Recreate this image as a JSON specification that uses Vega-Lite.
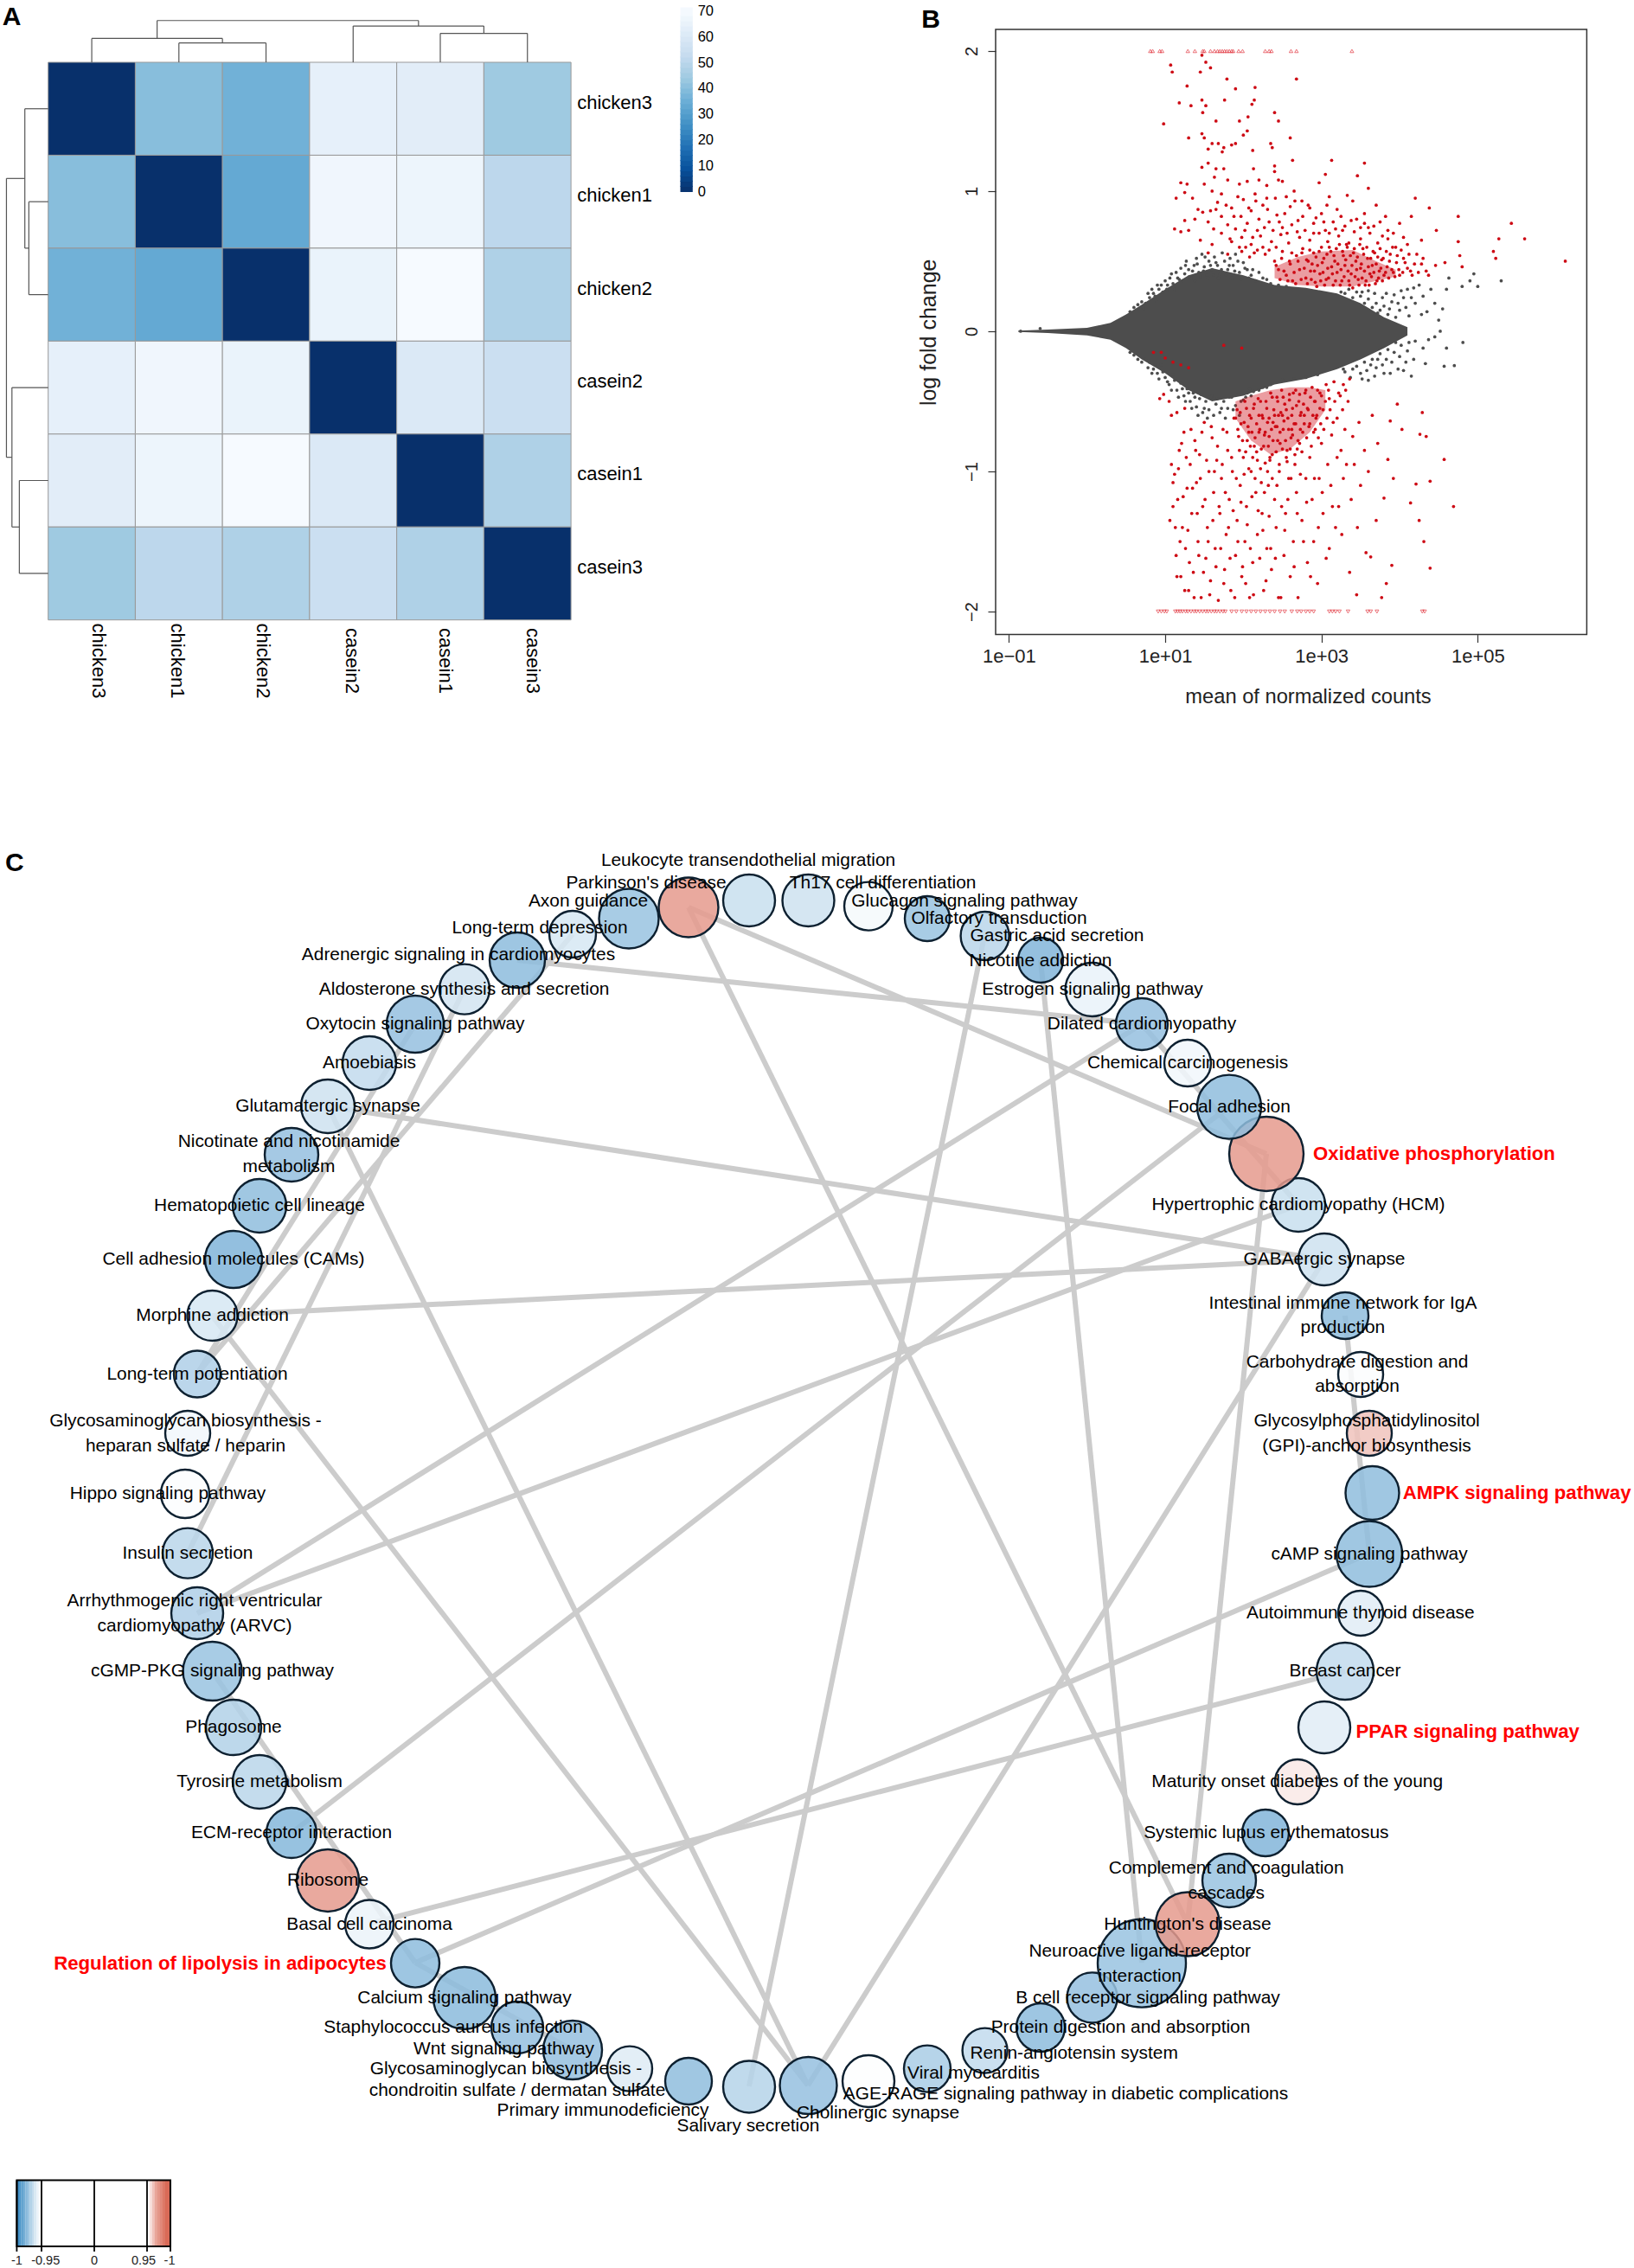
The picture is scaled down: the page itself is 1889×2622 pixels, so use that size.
{"$schema":"https://vega.github.io/schema/vega-lite/v6.json","background":"white","padding":0,"spacing":0,"config":{"font":"Liberation Sans","view":{"stroke":null},"concat":{"spacing":0}},
"datasets":{
"cells":[{"row":"chicken3","col":"chicken3","i":0,"i2":1,"j":0,"j2":1,"v":0},{"row":"chicken3","col":"chicken1","i":0,"i2":1,"j":1,"j2":2,"v":40},{"row":"chicken3","col":"chicken2","i":0,"i2":1,"j":2,"j2":3,"v":36},{"row":"chicken3","col":"casein2","i":0,"i2":1,"j":3,"j2":4,"v":64},{"row":"chicken3","col":"casein1","i":0,"i2":1,"j":4,"j2":5,"v":62.5},{"row":"chicken3","col":"casein3","i":0,"i2":1,"j":5,"j2":6,"v":44},
{"row":"chicken1","col":"chicken3","i":1,"i2":2,"j":0,"j2":1,"v":40},{"row":"chicken1","col":"chicken1","i":1,"i2":2,"j":1,"j2":2,"v":0},{"row":"chicken1","col":"chicken2","i":1,"i2":2,"j":2,"j2":3,"v":33.5},{"row":"chicken1","col":"casein2","i":1,"i2":2,"j":3,"j2":4,"v":67.5},{"row":"chicken1","col":"casein1","i":1,"i2":2,"j":4,"j2":5,"v":66.5},{"row":"chicken1","col":"casein3","i":1,"i2":2,"j":5,"j2":6,"v":50.5},
{"row":"chicken2","col":"chicken3","i":2,"i2":3,"j":0,"j2":1,"v":36},{"row":"chicken2","col":"chicken1","i":2,"i2":3,"j":1,"j2":2,"v":33.5},{"row":"chicken2","col":"chicken2","i":2,"i2":3,"j":2,"j2":3,"v":0},{"row":"chicken2","col":"casein2","i":2,"i2":3,"j":3,"j2":4,"v":65.5},{"row":"chicken2","col":"casein1","i":2,"i2":3,"j":4,"j2":5,"v":69.5},{"row":"chicken2","col":"casein3","i":2,"i2":3,"j":5,"j2":6,"v":47.5},
{"row":"casein2","col":"chicken3","i":3,"i2":4,"j":0,"j2":1,"v":64},{"row":"casein2","col":"chicken1","i":3,"i2":4,"j":1,"j2":2,"v":67.5},{"row":"casein2","col":"chicken2","i":3,"i2":4,"j":2,"j2":3,"v":65.5},{"row":"casein2","col":"casein2","i":3,"i2":4,"j":3,"j2":4,"v":0},{"row":"casein2","col":"casein1","i":3,"i2":4,"j":4,"j2":5,"v":60},{"row":"casein2","col":"casein3","i":3,"i2":4,"j":5,"j2":6,"v":54.5},
{"row":"casein1","col":"chicken3","i":4,"i2":5,"j":0,"j2":1,"v":62.5},{"row":"casein1","col":"chicken1","i":4,"i2":5,"j":1,"j2":2,"v":66.5},{"row":"casein1","col":"chicken2","i":4,"i2":5,"j":2,"j2":3,"v":69.5},{"row":"casein1","col":"casein2","i":4,"i2":5,"j":3,"j2":4,"v":60},{"row":"casein1","col":"casein1","i":4,"i2":5,"j":4,"j2":5,"v":0},{"row":"casein1","col":"casein3","i":4,"i2":5,"j":5,"j2":6,"v":47.5},
{"row":"casein3","col":"chicken3","i":5,"i2":6,"j":0,"j2":1,"v":44},{"row":"casein3","col":"chicken1","i":5,"i2":6,"j":1,"j2":2,"v":50.5},{"row":"casein3","col":"chicken2","i":5,"i2":6,"j":2,"j2":3,"v":47.5},{"row":"casein3","col":"casein2","i":5,"i2":6,"j":3,"j2":4,"v":54.5},{"row":"casein3","col":"casein1","i":5,"i2":6,"j":4,"j2":5,"v":47.5},{"row":"casein3","col":"casein3","i":5,"i2":6,"j":5,"j2":6,"v":0}],
"dendro":[{"a":1.5,"a2":2.5,"b":-0.208,"b2":-0.208},{"a":1.5,"a2":1.5,"b":0,"b2":-0.208},{"a":2.5,"a2":2.5,"b":0,"b2":-0.208},{"a":0.5,"a2":2,"b":-0.257,"b2":-0.257},{"a":0.5,"a2":0.5,"b":0,"b2":-0.257},{"a":2,"a2":2,"b":-0.208,"b2":-0.257},{"a":4.5,"a2":5.5,"b":-0.311,"b2":-0.311},{"a":4.5,"a2":4.5,"b":0,"b2":-0.311},{"a":5.5,"a2":5.5,"b":0,"b2":-0.311},{"a":3.5,"a2":5,"b":-0.39,"b2":-0.39},{"a":3.5,"a2":3.5,"b":0,"b2":-0.39},{"a":5,"a2":5,"b":-0.311,"b2":-0.39},{"a":1.25,"a2":4.25,"b":-0.449,"b2":-0.449},{"a":1.25,"a2":1.25,"b":-0.257,"b2":-0.449},{"a":4.25,"a2":4.25,"b":-0.39,"b2":-0.449},
{"a":-0.222,"a2":-0.222,"b":1.5,"b2":2.5},{"a":0,"a2":-0.222,"b":1.5,"b2":1.5},{"a":0,"a2":-0.222,"b":2.5,"b2":2.5},{"a":-0.268,"a2":-0.268,"b":0.5,"b2":2},{"a":0,"a2":-0.268,"b":0.5,"b2":0.5},{"a":-0.222,"a2":-0.268,"b":2,"b2":2},{"a":-0.331,"a2":-0.331,"b":4.5,"b2":5.5},{"a":0,"a2":-0.331,"b":4.5,"b2":4.5},{"a":0,"a2":-0.331,"b":5.5,"b2":5.5},{"a":-0.416,"a2":-0.416,"b":3.5,"b2":5},{"a":0,"a2":-0.416,"b":3.5,"b2":3.5},{"a":-0.331,"a2":-0.416,"b":5,"b2":5},{"a":-0.479,"a2":-0.479,"b":1.25,"b2":4.25},{"a":-0.268,"a2":-0.479,"b":1.25,"b2":1.25},{"a":-0.416,"a2":-0.479,"b":4.25,"b2":4.25}],
"ns":[{"m":-0.85,"l":0},{"m":-0.6,"l":0.02},{"m":0.75,"l":0.2},{"m":0.8,"l":0.24},{"m":0.85,"l":0.27},{"m":0.88,"l":0.22},{"m":0.92,"l":0.3},{"m":0.95,"l":0.33},{"m":1,"l":0.36},{"m":1.02,"l":0.3},{"m":1.06,"l":0.38},{"m":1.1,"l":0.34},{"m":1.14,"l":0.42},{"m":1.18,"l":0.37},{"m":1.2,"l":0.45},{"m":1.25,"l":0.41},{"m":1.27,"l":0.5},{"m":1.3,"l":0.44},{"m":1.33,"l":0.38},{"m":1.37,"l":0.47},{"m":1.4,"l":0.52},{"m":1.43,"l":0.42},{"m":1.47,"l":0.55},{"m":1.5,"l":0.46},{"m":1.53,"l":0.4},{"m":1.56,"l":0.5},{"m":1.6,"l":0.44},{"m":1.63,"l":0.53},{"m":1.67,"l":0.47},{"m":1.7,"l":0.41},{"m":1.73,"l":0.56},{"m":1.76,"l":0.5},{"m":1.8,"l":0.44},{"m":1.83,"l":0.52},{"m":1.87,"l":0.47},{"m":1.9,"l":0.55},{"m":1.95,"l":0.42},{"m":2,"l":0.49},{"m":2.05,"l":0.44},{"m":2.1,"l":0.4},{"m":2.2,"l":0.42},{"m":2.3,"l":0.37},
{"m":0.8,"l":-0.22},{"m":0.85,"l":-0.27},{"m":0.9,"l":-0.3},{"m":0.95,"l":-0.24},{"m":1,"l":-0.33},{"m":1.05,"l":-0.38},{"m":1.1,"l":-0.31},{"m":1.15,"l":-0.42},{"m":1.2,"l":-0.37},{"m":1.24,"l":-0.46},{"m":1.28,"l":-0.41},{"m":1.32,"l":-0.5},{"m":1.36,"l":-0.44},{"m":1.4,"l":-0.54},{"m":1.44,"l":-0.48},{"m":1.48,"l":-0.58},{"m":1.52,"l":-0.5},{"m":1.56,"l":-0.56},{"m":1.6,"l":-0.46},{"m":1.65,"l":-0.52},{"m":1.7,"l":-0.58},{"m":1.75,"l":-0.5},{"m":1.8,"l":-0.55},{"m":1.85,"l":-0.47},{"m":1.9,"l":-0.53},{"m":1.95,"l":-0.6},{"m":2,"l":-0.49},{"m":2.05,"l":-0.44},{"m":2.1,"l":-0.46},{"m":2.2,"l":-0.42},{"m":2.3,"l":-0.4},
{"m":3.3,"l":0.27},{"m":3.4,"l":0.24},{"m":3.5,"l":0.25},{"m":3.55,"l":0.2},{"m":3.6,"l":0.23},{"m":3.65,"l":0.17},{"m":3.7,"l":0.2},{"m":3.75,"l":0.15},{"m":3.8,"l":0.18},{"m":3.85,"l":0.12},{"m":3.9,"l":0.21},{"m":3.95,"l":0.1},{"m":4,"l":0.15},{"m":4.05,"l":0.24},{"m":4.1,"l":0.3},{"m":4.12,"l":0.11},{"m":4.2,"l":0.2},{"m":4.25,"l":0.33},{"m":4.3,"l":0.25},{"m":4.35,"l":0.14},{"m":4.4,"l":0.3},{"m":4.45,"l":0.2},{"m":4.5,"l":0.08},{"m":4.55,"l":0.16},{"m":4.6,"l":0.3},{"m":4.63,"l":0.38},{"m":4.8,"l":0.32},{"m":4.9,"l":0.36},{"m":4.95,"l":0.41},{"m":5,"l":0.32},{"m":5.3,"l":0.36},
{"m":3.3,"l":-0.29},{"m":3.4,"l":-0.27},{"m":3.5,"l":-0.3},{"m":3.55,"l":-0.22},{"m":3.6,"l":-0.35},{"m":3.65,"l":-0.2},{"m":3.7,"l":-0.26},{"m":3.75,"l":-0.16},{"m":3.8,"l":-0.3},{"m":3.85,"l":-0.13},{"m":3.9,"l":-0.22},{"m":3.95,"l":-0.08},{"m":4,"l":-0.18},{"m":4.05,"l":-0.28},{"m":4.1,"l":-0.14},{"m":4.15,"l":-0.32},{"m":4.2,"l":-0.07},{"m":4.3,"l":-0.12},{"m":4.33,"l":-0.23},{"m":4.37,"l":-0.06},{"m":4.45,"l":-0.04},{"m":4.52,"l":0},{"m":4.57,"l":-0.25},{"m":4.6,"l":-0.12},{"m":4.7,"l":-0.245},{"m":4.81,"l":-0.08},
{"m":0.55,"l":0.14},{"m":0.6,"l":0.17},{"m":0.65,"l":0.19},{"m":0.7,"l":0.21},{"m":0.72,"l":0.16},{"m":0.78,"l":0.27},{"m":0.83,"l":0.3},{"m":0.87,"l":0.25},{"m":0.9,"l":0.33},{"m":0.97,"l":0.28},{"m":1.03,"l":0.33},{"m":1.08,"l":0.41},{"m":1.12,"l":0.3},{"m":1.16,"l":0.38},{"m":1.22,"l":0.36},{"m":1.26,"l":0.47},{"m":1.31,"l":0.39},{"m":1.35,"l":0.43},{"m":1.38,"l":0.36},{"m":1.41,"l":0.48},{"m":1.45,"l":0.39},{"m":1.49,"l":0.43},{"m":1.51,"l":0.53},{"m":1.55,"l":0.38},{"m":1.58,"l":0.47},{"m":1.62,"l":0.4},{"m":1.65,"l":0.49},{"m":1.68,"l":0.38},{"m":1.72,"l":0.44},{"m":1.78,"l":0.4},{"m":1.82,"l":0.47},{"m":1.85,"l":0.38},{"m":1.89,"l":0.43},{"m":1.93,"l":0.5},{"m":1.97,"l":0.37},{"m":2.02,"l":0.45},{"m":2.07,"l":0.38},{"m":2.12,"l":0.44},{"m":2.16,"l":0.36},{"m":2.25,"l":0.38},{"m":2.35,"l":0.34},{"m":2.45,"l":0.33},{"m":2.55,"l":0.32},
{"m":0.55,"l":-0.15},{"m":0.6,"l":-0.17},{"m":0.65,"l":-0.2},{"m":0.7,"l":-0.22},{"m":0.75,"l":-0.2},{"m":0.78,"l":-0.26},{"m":0.83,"l":-0.3},{"m":0.87,"l":-0.24},{"m":0.92,"l":-0.34},{"m":0.97,"l":-0.29},{"m":1.03,"l":-0.36},{"m":1.08,"l":-0.42},{"m":1.12,"l":-0.35},{"m":1.17,"l":-0.47},{"m":1.22,"l":-0.41},{"m":1.26,"l":-0.5},{"m":1.3,"l":-0.44},{"m":1.34,"l":-0.55},{"m":1.38,"l":-0.47},{"m":1.42,"l":-0.6},{"m":1.46,"l":-0.45},{"m":1.5,"l":-0.55},{"m":1.54,"l":-0.62},{"m":1.58,"l":-0.47},{"m":1.62,"l":-0.6},{"m":1.67,"l":-0.48},{"m":1.72,"l":-0.55},{"m":1.77,"l":-0.62},{"m":1.82,"l":-0.47},{"m":1.87,"l":-0.56},{"m":1.92,"l":-0.45},{"m":1.97,"l":-0.5},{"m":2.03,"l":-0.47},{"m":2.08,"l":-0.41},{"m":2.13,"l":-0.43},{"m":2.25,"l":-0.4},{"m":2.35,"l":-0.38},{"m":2.5,"l":-0.35},{"m":2.65,"l":-0.34},{"m":2.8,"l":-0.33},{"m":2.95,"l":-0.31},
{"m":3.25,"l":0.28},{"m":3.35,"l":0.3},{"m":3.45,"l":0.28},{"m":3.52,"l":0.28},{"m":3.6,"l":0.29},{"m":3.68,"l":0.27},{"m":3.72,"l":0.13},{"m":3.78,"l":0.24},{"m":3.83,"l":0.27},{"m":3.87,"l":0.16},{"m":3.93,"l":0.26},{"m":3.98,"l":0.2},{"m":4.02,"l":0.29},{"m":4.08,"l":0.17},{"m":4.15,"l":0.24},{"m":4.18,"l":0.31},{"m":4.28,"l":0.12},{"m":3.28,"l":-0.27},{"m":3.37,"l":-0.33},{"m":3.45,"l":-0.25},{"m":3.52,"l":-0.34},{"m":3.58,"l":-0.28},{"m":3.63,"l":-0.24},{"m":3.68,"l":-0.32},{"m":3.72,"l":-0.2},{"m":3.78,"l":-0.24},{"m":3.83,"l":-0.2},{"m":3.88,"l":-0.3},{"m":3.93,"l":-0.15},{"m":3.98,"l":-0.27},{"m":4.02,"l":-0.1},{"m":4.08,"l":-0.22},{"m":4.12,"l":-0.08},{"m":4.18,"l":-0.2}],
"sig":[{"m":1.07,"l":1.9},{"m":1.09,"l":1.85},{"m":0.98,"l":1.48},{"m":1.18,"l":1.63},{"m":1.28,"l":1.75},{"m":1.33,"l":1.61},{"m":1.45,"l":1.85},{"m":1.47,"l":1.97},{"m":1.52,"l":1.92},{"m":1.58,"l":1.88},{"m":1.79,"l":1.8},{"m":1.9,"l":1.73},{"m":2.15,"l":1.74},{"m":2.68,"l":1.8},{"m":1.47,"l":1.65},{"m":1.52,"l":1.61},{"m":1.48,"l":1.56},{"m":1.76,"l":1.65},{"m":2.14,"l":1.65},{"m":2.11,"l":1.62},{"m":2.06,"l":1.53},{"m":2.4,"l":1.56},{"m":2.45,"l":1.5},{"m":1.65,"l":1.5},{"m":1.95,"l":1.5},{"m":2.05,"l":1.43},{"m":2.0,"l":1.4},{"m":2.6,"l":1.38},{"m":1.3,"l":1.38},{"m":1.47,"l":1.41},{"m":1.5,"l":1.38},{"m":1.55,"l":1.3},{"m":1.6,"l":1.34},{"m":1.68,"l":1.34},{"m":1.75,"l":1.31},{"m":1.85,"l":1.33},{"m":1.9,"l":1.34},{"m":2.12,"l":1.29},{"m":2.35,"l":1.34},{"m":2.37,"l":1.31},{"m":1.73,"l":1.28},{"m":1.55,"l":1.2},{"m":1.47,"l":1.17},{"m":1.65,"l":1.16},{"m":1.75,"l":1.16},{"m":2.13,"l":1.16},{"m":2.4,"l":1.18},{"m":2.63,"l":1.22},{"m":3.13,"l":1.22},{"m":3.55,"l":1.2},{"m":3.46,"l":1.11},{"m":2.4,"l":1.14},{"m":1.8,"l":1.08},{"m":1.63,"l":1.1},{"m":1.2,"l":1.06},{"m":1.28,"l":1.05},{"m":1.5,"l":1.05},{"m":1.95,"l":1.05},{"m":2.05,"l":1.07},{"m":2.2,"l":1.08},{"m":2.45,"l":1.08},{"m":2.5,"l":1.07},{"m":2.97,"l":1.06},{"m":3.05,"l":1.12},{"m":3.6,"l":1.02},{"m":2.65,"l":1.0},{"m":2.3,"l":1.04},
{"m":1.14,"l":0.95},{"m":1.25,"l":0.99},{"m":1.35,"l":0.95},{"m":1.6,"l":1.0},{"m":1.72,"l":0.98},{"m":2.0,"l":0.94},{"m":2.15,"l":0.98},{"m":2.3,"l":0.95},{"m":2.55,"l":0.96},{"m":2.75,"l":0.93},{"m":3.1,"l":0.96},{"m":3.33,"l":0.97},{"m":3.4,"l":0.93},{"m":4.2,"l":0.95},{"m":4.38,"l":0.88},{"m":1.42,"l":0.87},{"m":1.48,"l":0.85},{"m":1.65,"l":0.87},{"m":1.72,"l":0.82},{"m":1.85,"l":0.88},{"m":1.97,"l":0.82},{"m":2.1,"l":0.86},{"m":2.25,"l":0.9},{"m":2.43,"l":0.83},{"m":2.6,"l":0.89},{"m":2.85,"l":0.88},{"m":3.0,"l":0.84},{"m":3.2,"l":0.87},{"m":3.55,"l":0.84},{"m":3.7,"l":0.9},{"m":4.15,"l":0.82},{"m":1.25,"l":0.79},{"m":1.38,"l":0.8},{"m":1.55,"l":0.78},{"m":1.8,"l":0.76},{"m":1.9,"l":0.73},{"m":2.05,"l":0.77},{"m":2.18,"l":0.72},{"m":2.33,"l":0.78},{"m":2.5,"l":0.74},{"m":2.7,"l":0.79},{"m":2.9,"l":0.77},{"m":3.05,"l":0.72},{"m":3.15,"l":0.78},{"m":3.3,"l":0.75},{"m":3.45,"l":0.8},{"m":3.6,"l":0.74},{"m":3.75,"l":0.78},{"m":3.85,"l":0.72},{"m":4.0,"l":0.77},{"m":1.12,"l":0.73},{"m":1.2,"l":0.71},{"m":1.3,"l":0.72},{"m":1.45,"l":0.65},{"m":1.6,"l":0.62},{"m":1.72,"l":0.7},{"m":1.85,"l":0.64},{"m":1.98,"l":0.67},{"m":2.1,"l":0.62},{"m":2.22,"l":0.68},{"m":2.36,"l":0.64},{"m":2.48,"l":0.69},{"m":2.58,"l":0.63},{"m":2.72,"l":0.67},{"m":2.85,"l":0.65},{"m":2.97,"l":0.7},{"m":3.08,"l":0.64},{"m":3.22,"l":0.68},{"m":3.35,"l":0.63},{"m":3.5,"l":0.66},{"m":3.62,"l":0.7},{"m":3.72,"l":0.63},{"m":3.85,"l":0.66},{"m":3.95,"l":0.6},{"m":4.1,"l":0.62},{"m":4.28,"l":0.65},{"m":4.47,"l":0.72},{"m":1.55,"l":0.56},{"m":1.8,"l":0.55},{"m":1.98,"l":0.57},{"m":2.08,"l":0.53},{"m":2.18,"l":0.58},{"m":2.28,"l":0.55},
{"m":1.58,"l":0.86},{"m":1.62,"l":0.73},{"m":1.67,"l":0.92},{"m":1.78,"l":0.9},{"m":1.83,"l":0.66},{"m":1.88,"l":0.82},{"m":1.93,"l":0.96},{"m":2.02,"l":0.72},{"m":2.07,"l":0.88},{"m":2.12,"l":0.67},{"m":2.16,"l":0.93},{"m":2.2,"l":0.8},{"m":2.27,"l":0.74},{"m":2.31,"l":0.87},{"m":2.38,"l":0.72},{"m":2.41,"l":0.95},{"m":2.46,"l":0.78},{"m":2.53,"l":0.84},{"m":2.56,"l":0.7},{"m":2.62,"l":0.76},{"m":2.66,"l":0.93},{"m":2.69,"l":0.71},{"m":2.76,"l":0.82},{"m":2.79,"l":0.72},{"m":2.83,"l":0.9},{"m":2.9,"l":0.7},{"m":2.93,"l":0.81},{"m":3.03,"l":0.78},{"m":3.07,"l":0.9},{"m":3.1,"l":0.7},{"m":3.18,"l":0.73},{"m":3.25,"l":0.82},{"m":3.27,"l":0.72},{"m":3.38,"l":0.79},{"m":3.42,"l":0.71},{"m":3.5,"l":0.74},{"m":3.55,"l":0.77},{"m":3.67,"l":0.75},{"m":3.78,"l":0.68},{"m":3.82,"l":0.82},{"m":3.92,"l":0.7},{"m":4.05,"l":0.67},{"m":1.95,"l":0.6},{"m":2.03,"l":0.6},{"m":2.14,"l":0.56},{"m":2.25,"l":0.6},{"m":2.33,"l":0.58},{"m":2.42,"l":0.6},
{"m":2.4,"l":0.5},{"m":2.45,"l":0.44},{"m":2.5,"l":0.57},{"m":2.55,"l":0.4},{"m":2.6,"l":0.48},{"m":2.63,"l":0.36},{"m":2.68,"l":0.54},{"m":2.72,"l":0.44},{"m":2.76,"l":0.59},{"m":2.8,"l":0.38},{"m":2.83,"l":0.5},{"m":2.86,"l":0.43},{"m":2.9,"l":0.56},{"m":2.92,"l":0.35},{"m":2.95,"l":0.47},{"m":2.98,"l":0.41},{"m":3.0,"l":0.6},{"m":3.03,"l":0.52},{"m":3.06,"l":0.37},{"m":3.08,"l":0.45},{"m":3.12,"l":0.57},{"m":3.15,"l":0.33},{"m":3.17,"l":0.5},{"m":3.2,"l":0.42},{"m":3.23,"l":0.62},{"m":3.26,"l":0.36},{"m":3.28,"l":0.54},{"m":3.3,"l":0.47},{"m":3.33,"l":0.6},{"m":3.36,"l":0.33},{"m":3.38,"l":0.41},{"m":3.41,"l":0.56},{"m":3.44,"l":0.5},{"m":3.47,"l":0.37},{"m":3.5,"l":0.45},{"m":3.53,"l":0.59},{"m":3.56,"l":0.33},{"m":3.59,"l":0.52},{"m":3.62,"l":0.41},{"m":3.65,"l":0.47},{"m":3.68,"l":0.56},{"m":3.71,"l":0.36},{"m":3.74,"l":0.43},{"m":3.77,"l":0.51},{"m":3.8,"l":0.4},{"m":3.84,"l":0.46},{"m":3.88,"l":0.55},{"m":3.92,"l":0.42},{"m":3.96,"l":0.49},{"m":4.0,"l":0.4},{"m":4.05,"l":0.52},{"m":4.1,"l":0.45},{"m":4.16,"l":0.4},{"m":4.22,"l":0.55},{"m":4.28,"l":0.48},{"m":4.34,"l":0.43},{"m":4.46,"l":0.47},{"m":4.58,"l":0.49},{"m":4.75,"l":0.82},{"m":4.75,"l":0.64},{"m":4.77,"l":0.54},{"m":4.8,"l":0.46},{"m":5.2,"l":0.57},{"m":5.23,"l":0.52},{"m":5.27,"l":0.66},{"m":5.43,"l":0.77},{"m":5.6,"l":0.66},{"m":6.12,"l":0.5},
{"m":2.42,"l":0.47},{"m":2.47,"l":0.37},{"m":2.49,"l":0.52},{"m":2.52,"l":0.43},{"m":2.57,"l":0.36},{"m":2.59,"l":0.5},{"m":2.62,"l":0.56},{"m":2.65,"l":0.42},{"m":2.67,"l":0.34},{"m":2.7,"l":0.5},{"m":2.74,"l":0.37},{"m":2.75,"l":0.56},{"m":2.78,"l":0.45},{"m":2.81,"l":0.51},{"m":2.82,"l":0.34},{"m":2.85,"l":0.58},{"m":2.87,"l":0.37},{"m":2.88,"l":0.48},{"m":2.91,"l":0.43},{"m":2.93,"l":0.53},{"m":2.94,"l":0.32},{"m":2.97,"l":0.57},{"m":2.99,"l":0.36},{"m":3.01,"l":0.49},{"m":3.02,"l":0.42},{"m":3.04,"l":0.33},{"m":3.07,"l":0.55},{"m":3.09,"l":0.38},{"m":3.1,"l":0.6},{"m":3.13,"l":0.46},{"m":3.14,"l":0.41},{"m":3.16,"l":0.54},{"m":3.18,"l":0.36},{"m":3.19,"l":0.59},{"m":3.21,"l":0.48},{"m":3.24,"l":0.33},{"m":3.25,"l":0.44},{"m":3.27,"l":0.57},{"m":3.29,"l":0.39},{"m":3.31,"l":0.51},{"m":3.32,"l":0.62},{"m":3.34,"l":0.43},{"m":3.35,"l":0.36},{"m":3.37,"l":0.54},{"m":3.39,"l":0.47},{"m":3.4,"l":0.31},{"m":3.42,"l":0.59},{"m":3.43,"l":0.39},{"m":3.45,"l":0.44},{"m":3.46,"l":0.53},{"m":3.48,"l":0.33},{"m":3.49,"l":0.62},{"m":3.51,"l":0.48},{"m":3.52,"l":0.38},{"m":3.54,"l":0.55},{"m":3.55,"l":0.43},{"m":3.57,"l":0.36},{"m":3.58,"l":0.6},{"m":3.6,"l":0.46},{"m":3.61,"l":0.33},{"m":3.63,"l":0.52},{"m":3.64,"l":0.39},{"m":3.66,"l":0.57},{"m":3.67,"l":0.42},{"m":3.69,"l":0.34},{"m":3.7,"l":0.48},{"m":3.72,"l":0.53},{"m":3.73,"l":0.38},{"m":3.75,"l":0.59},{"m":3.76,"l":0.45},{"m":3.78,"l":0.36},{"m":3.79,"l":0.52},{"m":3.82,"l":0.42},{"m":3.83,"l":0.57},{"m":3.86,"l":0.38},{"m":3.87,"l":0.5},{"m":3.9,"l":0.44},{"m":3.91,"l":0.6},{"m":3.94,"l":0.39},{"m":3.97,"l":0.54},{"m":3.99,"l":0.44},{"m":4.02,"l":0.58},{"m":4.04,"l":0.42},{"m":4.07,"l":0.49},{"m":4.12,"l":0.55},{"m":4.14,"l":0.43},{"m":4.19,"l":0.48},{"m":4.24,"l":0.42},{"m":4.3,"l":0.52},{"m":4.37,"l":0.4},
{"m":0.85,"l":-0.15},{"m":0.95,"l":-0.15},{"m":1.0,"l":-0.19},{"m":1.1,"l":-0.22},{"m":1.2,"l":-0.24},{"m":1.3,"l":-0.26},{"m":1.98,"l":-0.12},{"m":1.75,"l":-0.1},{"m":0.93,"l":-0.48},{"m":1.05,"l":-0.5},{"m":1.08,"l":-0.6},{"m":0.98,"l":-0.45},{"m":1.15,"l":-0.58},{"m":1.25,"l":-0.55},
{"m":4.69,"l":-1.25},{"m":4.57,"l":-0.915},{"m":4.29,"l":-0.58},{"m":4.26,"l":-0.735},{"m":4.34,"l":-0.75},{"m":4.21,"l":-1.09},{"m":4.39,"l":-1.07},{"m":4.14,"l":-1.225},{"m":4.25,"l":-1.35},{"m":4.31,"l":-1.5},{"m":4.39,"l":-1.69},{"m":4.03,"l":-0.7},{"m":3.97,"l":-0.52},{"m":3.88,"l":-0.64},{"m":3.85,"l":-0.915},{"m":3.92,"l":-1.05},{"m":3.8,"l":-1.19},{"m":3.7,"l":-1.35},{"m":3.9,"l":-1.67},{"m":3.83,"l":-1.8},{"m":3.77,"l":-1.9},{"m":3.63,"l":-1.61},{"m":3.57,"l":-1.58},{"m":3.45,"l":-1.88},{"m":3.36,"l":-1.72},{"m":3.6,"l":-1.0},{"m":3.55,"l":-0.85},{"m":3.65,"l":-0.6},{"m":3.72,"l":-0.8},{"m":3.5,"l":-1.1},{"m":3.42,"l":-0.95},{"m":3.38,"l":-1.2},{"m":3.46,"l":-1.4},{"m":3.3,"l":-0.7},{"m":3.34,"l":-0.5},{"m":3.28,"l":-1.05},{"m":3.22,"l":-1.25},{"m":3.25,"l":-0.85},{"m":3.18,"l":-1.4},{"m":3.12,"l":-1.1},{"m":3.15,"l":-0.65},{"m":3.08,"l":-0.95},{"m":3.1,"l":-1.55},{"m":3.02,"l":-1.3},{"m":3.0,"l":-0.8},{"m":2.97,"l":-1.05},{"m":2.95,"l":-1.8},{"m":2.9,"l":-1.5},{"m":2.92,"l":-0.7},{"m":2.88,"l":-1.2},{"m":2.85,"l":-0.9},{"m":2.82,"l":-1.65},{"m":2.8,"l":-1.05},{"m":2.78,"l":-0.6},{"m":2.75,"l":-1.35},{"m":2.72,"l":-0.8},{"m":2.7,"l":-1.9},{"m":2.68,"l":-1.15},{"m":2.66,"l":-0.95},{"m":2.64,"l":-1.5},{"m":2.62,"l":-0.7},{"m":2.6,"l":-1.75},{"m":2.58,"l":-1.05},{"m":2.56,"l":-0.85},{"m":2.54,"l":-1.3},{"m":2.52,"l":-1.6},{"m":2.5,"l":-0.6},{"m":2.48,"l":-1.9},{"m":2.46,"l":-1.0},{"m":2.44,"l":-0.78},{"m":2.42,"l":-1.4},{"m":2.4,"l":-1.2},{"m":2.38,"l":-0.65},{"m":2.36,"l":-1.7},{"m":2.34,"l":-0.9},{"m":2.32,"l":-1.1},{"m":2.3,"l":-1.55},{"m":2.28,"l":-0.72},{"m":2.26,"l":-1.85},{"m":2.24,"l":-1.3},{"m":2.22,"l":-0.98},{"m":2.2,"l":-0.6},{"m":2.18,"l":-1.45},{"m":2.16,"l":-1.15},{"m":2.14,"l":-0.82},{"m":2.12,"l":-1.65},{"m":2.1,"l":-1.0},{"m":2.08,"l":-1.9},{"m":2.06,"l":-0.68},{"m":2.04,"l":-1.25},{"m":2.02,"l":-1.5},{"m":2.0,"l":-0.9},{"m":1.98,"l":-1.75},{"m":1.96,"l":-1.1},{"m":1.94,"l":-0.75},{"m":1.92,"l":-1.35},{"m":1.9,"l":-1.6},{"m":1.88,"l":-0.62},{"m":1.86,"l":-1.0},{"m":1.84,"l":-1.85},{"m":1.82,"l":-1.2},{"m":1.8,"l":-0.85},{"m":1.78,"l":-1.45},{"m":1.76,"l":-1.7},{"m":1.74,"l":-0.7},{"m":1.72,"l":-1.05},{"m":1.7,"l":-1.3},{"m":1.68,"l":-1.92},{"m":1.66,"l":-0.92},{"m":1.64,"l":-1.55},{"m":1.62,"l":-1.15},{"m":1.6,"l":-0.76},{"m":1.58,"l":-1.78},{"m":1.56,"l":-1.0},{"m":1.54,"l":-1.4},{"m":1.52,"l":-1.62},{"m":1.5,"l":-0.65},{"m":1.48,"l":-1.25},{"m":1.46,"l":-1.9},{"m":1.44,"l":-0.88},{"m":1.42,"l":-1.5},{"m":1.4,"l":-1.08},{"m":1.38,"l":-0.78},{"m":1.36,"l":-1.72},{"m":1.34,"l":-1.3},{"m":1.32,"l":-0.95},{"m":1.3,"l":-1.85},{"m":1.28,"l":-1.12},{"m":1.26,"l":-1.55},{"m":1.24,"l":-0.72},{"m":1.22,"l":-1.4},{"m":1.2,"l":-1.75},{"m":1.18,"l":-0.85},{"m":1.16,"l":-1.2},{"m":1.14,"l":-1.6},{"m":1.12,"l":-1.02},{"m":1.1,"l":-1.25},{"m":1.08,"l":-0.95},{"m":1.06,"l":-1.35},
{"m":1.1,"l":-1.08},{"m":1.13,"l":-1.4},{"m":1.15,"l":-1.75},{"m":1.17,"l":-0.98},{"m":1.19,"l":-1.5},{"m":1.21,"l":-0.8},{"m":1.23,"l":-1.18},{"m":1.25,"l":-1.85},{"m":1.27,"l":-0.9},{"m":1.29,"l":-1.42},{"m":1.31,"l":-1.65},{"m":1.33,"l":-0.7},{"m":1.35,"l":-1.12},{"m":1.37,"l":-1.9},{"m":1.39,"l":-0.85},{"m":1.41,"l":-1.3},{"m":1.43,"l":-1.6},{"m":1.45,"l":-1.05},{"m":1.47,"l":-0.72},{"m":1.49,"l":-1.72},{"m":1.51,"l":-1.2},{"m":1.53,"l":-0.92},{"m":1.55,"l":-1.5},{"m":1.57,"l":-1.88},{"m":1.59,"l":-0.68},{"m":1.61,"l":-1.35},{"m":1.63,"l":-1.0},{"m":1.65,"l":-1.68},{"m":1.67,"l":-0.82},{"m":1.69,"l":-1.25},{"m":1.71,"l":-1.55},{"m":1.73,"l":-0.95},{"m":1.75,"l":-1.8},{"m":1.77,"l":-1.15},{"m":1.79,"l":-0.72},{"m":1.81,"l":-1.4},{"m":1.83,"l":-1.62},{"m":1.85,"l":-0.9},{"m":1.87,"l":-1.28},{"m":1.89,"l":-1.9},{"m":1.91,"l":-1.05},{"m":1.93,"l":-1.5},{"m":1.95,"l":-0.85},{"m":1.97,"l":-1.22},{"m":1.99,"l":-1.68},{"m":2.01,"l":-1.02},{"m":2.03,"l":-1.8},{"m":2.05,"l":-1.38},{"m":2.07,"l":-0.98},{"m":2.09,"l":-1.55},{"m":2.11,"l":-1.18},{"m":2.13,"l":-1.88},{"m":2.15,"l":-1.05},{"m":2.19,"l":-1.28},{"m":2.21,"l":-1.62},{"m":2.23,"l":-1.08},{"m":2.25,"l":-1.42},{"m":2.27,"l":-1.15},{"m":2.29,"l":-1.78},{"m":2.31,"l":-1.0},{"m":2.33,"l":-1.32},{"m":2.35,"l":-1.55},{"m":2.37,"l":-1.05},{"m":2.41,"l":-1.62},{"m":2.43,"l":-1.1},{"m":2.45,"l":-1.9},{"m":2.49,"l":-1.25},{"m":2.53,"l":-1.42},{"m":2.57,"l":-1.2},{"m":2.61,"l":-1.05},{"m":2.65,"l":-1.68},{"m":2.69,"l":-1.3},{"m":2.73,"l":-1.02},{"m":2.77,"l":-1.5},{"m":2.81,"l":-1.22},{"m":2.86,"l":-1.75},{"m":2.91,"l":-1.05},{"m":2.96,"l":-1.4},{"m":3.01,"l":-1.15},{"m":3.06,"l":-1.62},{"m":3.14,"l":-1.25},{"m":3.2,"l":-0.9},{"m":3.26,"l":-1.45},{"m":3.32,"l":-0.95},{"m":3.4,"l":-0.75},{"m":3.48,"l":-0.65},
{"m":1.92,"l":-0.56},{"m":1.97,"l":-0.66},{"m":2.02,"l":-0.5},{"m":2.05,"l":-0.78},{"m":2.08,"l":-0.6},{"m":2.11,"l":-0.72},{"m":2.13,"l":-0.55},{"m":2.17,"l":-0.86},{"m":2.19,"l":-0.48},{"m":2.21,"l":-0.7},{"m":2.24,"l":-0.6},{"m":2.26,"l":-0.82},{"m":2.29,"l":-0.5},{"m":2.31,"l":-0.65},{"m":2.33,"l":-0.75},{"m":2.35,"l":-0.44},{"m":2.37,"l":-0.88},{"m":2.39,"l":-0.56},{"m":2.41,"l":-0.68},{"m":2.43,"l":-0.47},{"m":2.45,"l":-0.6},{"m":2.47,"l":-0.8},{"m":2.49,"l":-0.42},{"m":2.51,"l":-0.7},{"m":2.53,"l":-0.52},{"m":2.55,"l":-0.9},{"m":2.57,"l":-0.62},{"m":2.59,"l":-0.45},{"m":2.61,"l":-0.76},{"m":2.63,"l":-0.55},{"m":2.65,"l":-0.66},{"m":2.67,"l":-0.42},{"m":2.69,"l":-0.84},{"m":2.71,"l":-0.5},{"m":2.73,"l":-0.6},{"m":2.76,"l":-0.72},{"m":2.79,"l":-0.44},{"m":2.82,"l":-0.55},{"m":2.85,"l":-0.66},{"m":2.88,"l":-0.4},{"m":2.91,"l":-0.5},{"m":2.94,"l":-0.6},{"m":2.98,"l":-0.44},{"m":3.02,"l":-0.56},{"m":3.06,"l":-0.38},{"m":3.1,"l":-0.48},{"m":3.16,"l":-0.36},{"m":3.22,"l":-0.44},{"m":3.28,"l":-0.38},{"m":3.36,"l":-0.34},
{"m":1.9,"l":-0.62},{"m":1.93,"l":-0.7},{"m":1.96,"l":-0.58},{"m":1.99,"l":-0.78},{"m":2.01,"l":-0.65},{"m":2.03,"l":-0.86},{"m":2.04,"l":-0.55},{"m":2.07,"l":-0.72},{"m":2.09,"l":-0.82},{"m":2.1,"l":-0.62},{"m":2.12,"l":-0.9},{"m":2.14,"l":-0.52},{"m":2.15,"l":-0.76},{"m":2.17,"l":-0.66},{"m":2.18,"l":-0.92},{"m":2.2,"l":-0.72},{"m":2.22,"l":-0.5},{"m":2.23,"l":-0.84},{"m":2.25,"l":-0.62},{"m":2.27,"l":-0.74},{"m":2.28,"l":-0.94},{"m":2.3,"l":-0.55},{"m":2.32,"l":-0.82},{"m":2.33,"l":-0.62},{"m":2.34,"l":-0.92},{"m":2.36,"l":-0.7},{"m":2.37,"l":-0.47},{"m":2.38,"l":-0.78},{"m":2.4,"l":-0.6},{"m":2.42,"l":-0.86},{"m":2.43,"l":-0.68},{"m":2.44,"l":-0.5},{"m":2.46,"l":-0.95},{"m":2.47,"l":-0.72},{"m":2.48,"l":-0.58},{"m":2.5,"l":-0.84},{"m":2.51,"l":-0.47},{"m":2.52,"l":-0.64},{"m":2.54,"l":-0.78},{"m":2.55,"l":-0.56},{"m":2.56,"l":-0.93},{"m":2.58,"l":-0.7},{"m":2.59,"l":-0.49},{"m":2.6,"l":-0.84},{"m":2.62,"l":-0.6},{"m":2.63,"l":-0.74},{"m":2.64,"l":-0.44},{"m":2.66,"l":-0.88},{"m":2.67,"l":-0.66},{"m":2.68,"l":-0.53},{"m":2.7,"l":-0.78},{"m":2.72,"l":-0.45},{"m":2.73,"l":-0.7},{"m":2.74,"l":-0.58},{"m":2.75,"l":-0.86},{"m":2.77,"l":-0.52},{"m":2.78,"l":-0.66},{"m":2.8,"l":-0.42},{"m":2.81,"l":-0.76},{"m":2.83,"l":-0.56},{"m":2.84,"l":-0.68},{"m":2.86,"l":-0.47},{"m":2.87,"l":-0.82},{"m":2.89,"l":-0.6},{"m":2.9,"l":-0.72},{"m":2.92,"l":-0.5},{"m":2.93,"l":-0.62},{"m":2.95,"l":-0.42},{"m":2.96,"l":-0.76},{"m":2.98,"l":-0.55},{"m":2.99,"l":-0.66},{"m":3.0,"l":-0.46},{"m":3.03,"l":-0.7},{"m":3.05,"l":-0.5},{"m":3.07,"l":-0.62},{"m":3.09,"l":-0.42},{"m":3.11,"l":-0.56},{"m":3.13,"l":-0.74},{"m":3.17,"l":-0.5},{"m":3.2,"l":-0.62},{"m":3.24,"l":-0.46},{"m":3.27,"l":-0.56},{"m":3.31,"l":-0.42}],
"tup":[{"m":0.81,"l":2},{"m":0.84,"l":2},{"m":0.93,"l":2},{"m":0.96,"l":2},{"m":1.29,"l":2},{"m":1.38,"l":2},{"m":1.48,"l":2},{"m":1.5,"l":2},{"m":1.58,"l":2},{"m":1.63,"l":2},{"m":1.67,"l":2},{"m":1.7,"l":2},{"m":1.73,"l":2},{"m":1.76,"l":2},{"m":1.79,"l":2},{"m":1.82,"l":2},{"m":1.85,"l":2},{"m":1.87,"l":2},{"m":1.94,"l":2},{"m":1.99,"l":2},{"m":2.28,"l":2},{"m":2.33,"l":2},{"m":2.36,"l":2},{"m":2.61,"l":2},{"m":2.68,"l":2},{"m":3.39,"l":2}],
"tdn":[{"m":0.91,"l":-2},{"m":0.95,"l":-2},{"m":0.99,"l":-2},{"m":1.02,"l":-2},{"m":1.13,"l":-2},{"m":1.16,"l":-2},{"m":1.19,"l":-2},{"m":1.22,"l":-2},{"m":1.26,"l":-2},{"m":1.29,"l":-2},{"m":1.33,"l":-2},{"m":1.37,"l":-2},{"m":1.4,"l":-2},{"m":1.44,"l":-2},{"m":1.48,"l":-2},{"m":1.52,"l":-2},{"m":1.55,"l":-2},{"m":1.59,"l":-2},{"m":1.63,"l":-2},{"m":1.66,"l":-2},{"m":1.7,"l":-2},{"m":1.74,"l":-2},{"m":1.77,"l":-2},{"m":1.85,"l":-2},{"m":1.91,"l":-2},{"m":1.98,"l":-2},{"m":2.04,"l":-2},{"m":2.1,"l":-2},{"m":2.16,"l":-2},{"m":2.22,"l":-2},{"m":2.28,"l":-2},{"m":2.34,"l":-2},{"m":2.4,"l":-2},{"m":2.47,"l":-2},{"m":2.53,"l":-2},{"m":2.62,"l":-2},{"m":2.69,"l":-2},{"m":2.74,"l":-2},{"m":2.8,"l":-2},{"m":2.85,"l":-2},{"m":2.9,"l":-2},{"m":3.1,"l":-2},{"m":3.14,"l":-2},{"m":3.18,"l":-2},{"m":3.23,"l":-2},{"m":3.34,"l":-2},{"m":3.59,"l":-2},{"m":3.63,"l":-2},{"m":3.71,"l":-2},{"m":4.29,"l":-2},{"m":4.32,"l":-2}],
"edges":[{"x1":598,"y1":1108,"x2":1320,"y2":1182},{"x1":796,"y1":1047,"x2":1464,"y2":1332},{"x1":796,"y1":1047,"x2":1373,"y2":2222},{"x1":379,"y1":1277,"x2":1531,"y2":1454},{"x1":245,"y1":1519,"x2":1531,"y2":1454},{"x1":228,"y1":1863,"x2":1320,"y2":1182},{"x1":228,"y1":1863,"x2":1501,"y2":1391},{"x1":337,"y1":2117,"x2":1421,"y2":1277},{"x1":662,"y1":1078,"x2":228,"y2":1586},{"x1":217,"y1":1794,"x2":537,"y2":1141},{"x1":480,"y1":1182,"x2":228,"y2":1586},{"x1":379,"y1":1277,"x2":934,"y2":2409},{"x1":245,"y1":1519,"x2":934,"y2":2409},{"x1":1138,"y1":1080,"x2":866,"y2":2410},{"x1":1203,"y1":1108,"x2":1320,"y2":2267},{"x1":1464,"y1":1332,"x2":1373,"y2":2222},{"x1":1531,"y1":1454,"x2":934,"y2":2409},{"x1":1583,"y1":1794,"x2":480,"y2":2267},{"x1":1555,"y1":1930,"x2":427,"y2":2222},{"x1":1555,"y1":1519,"x2":1583,"y2":1794},{"x1":1320,"y1":1182,"x2":1501,"y2":1391},{"x1":245,"y1":1930,"x2":480,"y2":2267},{"x1":480,"y1":2267,"x2":662,"y2":2368}],
"nodes":[{"n":"Parkinson's disease","x":796,"y":1047,"r":34.5,"s":0.68},{"n":"Leukocyte transendothelial migration","x":866,"y":1039,"r":30,"s":-0.28},{"n":"Th17 cell differentiation","x":934.5,"y":1039,"r":30,"s":-0.25},{"n":"Axon guidance","x":727,"y":1060,"r":34.5,"s":-0.52},{"n":"Long-term depression","x":662,"y":1078,"r":27,"s":-0.21},{"n":"Adrenergic signaling in cardiomyocytes","x":598,"y":1108,"r":32,"s":-0.58},{"n":"Aldosterone synthesis and secretion","x":537,"y":1141.6,"r":29,"s":-0.23},{"n":"Oxytocin signaling pathway","x":480,"y":1182,"r":33,"s":-0.54},{"n":"Amoebiasis","x":427,"y":1227,"r":31,"s":-0.31},{"n":"Glutamatergic synapse","x":379,"y":1277,"r":31,"s":-0.25},{"n":"Nicotinate and nicotinamide metabolism","x":337,"y":1333,"r":31,"s":-0.54},{"n":"Hematopoietic cell lineage","x":300,"y":1392,"r":31,"s":-0.57},{"n":"Cell adhesion molecules (CAMs)","x":270,"y":1454,"r":33,"s":-0.65},{"n":"Morphine addiction","x":245.5,"y":1519,"r":29,"s":-0.21},{"n":"Long-term potentiation","x":228,"y":1586.5,"r":27,"s":-0.41},{"n":"Glycosaminoglycan biosynthesis - heparan sulfate / heparin","x":217,"y":1655,"r":26,"s":-0.07},{"n":"Hippo signaling pathway","x":214,"y":1725,"r":28,"s":-0.02},{"n":"Insulin secretion","x":217,"y":1793.6,"r":29,"s":-0.35},{"n":"ARVC","x":228,"y":1863,"r":30,"s":-0.41},{"n":"cGMP-PKG signaling pathway","x":245.5,"y":1930,"r":34,"s":-0.52},{"n":"Phagosome","x":270,"y":1995,"r":32,"s":-0.4},{"n":"Tyrosine metabolism","x":300,"y":2058,"r":31,"s":-0.35},{"n":"ECM-receptor interaction","x":337,"y":2117,"r":29,"s":-0.62},{"n":"Ribosome","x":379,"y":2172,"r":36,"s":0.68},{"n":"Basal cell carcinoma","x":427,"y":2222.5,"r":28,"s":-0.1},{"n":"Regulation of lipolysis in adipocytes","x":480,"y":2267.6,"r":28,"s":-0.58},{"n":"Calcium signaling pathway","x":537,"y":2308,"r":36,"s":-0.59},{"n":"Staphylococcus aureus infection","x":598,"y":2342,"r":30,"s":-0.54},{"n":"Wnt signaling pathway","x":662,"y":2368,"r":34,"s":-0.54},{"n":"Glycosaminoglycan biosynthesis - chondroitin sulfate / dermatan sulfate","x":728,"y":2389.6,"r":26,"s":-0.17},{"n":"Primary immunodeficiency","x":796,"y":2404,"r":27,"s":-0.57},{"n":"Salivary secretion","x":866,"y":2410.5,"r":30,"s":-0.38},{"n":"Cholinergic synapse","x":934.5,"y":2409,"r":33,"s":-0.54},{"n":"AGE-RAGE signaling pathway in diabetic complications","x":1004,"y":2404,"r":30,"s":-0.01},{"n":"Viral myocarditis","x":1072,"y":2389.6,"r":27,"s":-0.44},{"n":"Renin-angiotensin system","x":1138.6,"y":2368.6,"r":26,"s":-0.31},{"n":"Protein digestion and absorption","x":1203,"y":2342,"r":28,"s":-0.58},{"n":"B cell receptor signaling pathway","x":1262.6,"y":2307.4,"r":29,"s":-0.54},{"n":"Neuroactive ligand-receptor interaction","x":1320,"y":2267.6,"r":51,"s":-0.52},{"n":"Huntington's disease","x":1373,"y":2222.5,"r":37,"s":0.68},{"n":"Complement and coagulation cascades","x":1421,"y":2172,"r":31,"s":-0.52},{"n":"Systemic lupus erythematosus","x":1463,"y":2117,"r":27,"s":-0.64},{"n":"Maturity onset diabetes of the young","x":1500,"y":2058,"r":26,"s":0.15},{"n":"PPAR signaling pathway","x":1531,"y":1995,"r":30,"s":-0.16},{"n":"Breast cancer","x":1555,"y":1930,"r":33,"s":-0.31},{"n":"Autoimmune thyroid disease","x":1573,"y":1863,"r":26,"s":-0.16},{"n":"cAMP signaling pathway","x":1583,"y":1794.5,"r":38,"s":-0.57},{"n":"AMPK signaling pathway","x":1586.5,"y":1724,"r":31,"s":-0.57},{"n":"GPI-anchor biosynthesis","x":1583,"y":1655,"r":26,"s":0.4},{"n":"Carbohydrate digestion and absorption","x":1573,"y":1587,"r":26,"s":-0.02},{"n":"Intestinal immune network for IgA production","x":1555,"y":1519,"r":27,"s":-0.57},{"n":"GABAergic synapse","x":1531,"y":1454,"r":30,"s":-0.25},{"n":"HCM","x":1501,"y":1391,"r":31,"s":-0.28},{"n":"Oxidative phosphorylation","x":1464,"y":1332,"r":43,"s":0.68},{"n":"Focal adhesion","x":1421,"y":1277.6,"r":37,"s":-0.57},{"n":"Chemical carcinogenesis","x":1373,"y":1227,"r":27,"s":-0.07},{"n":"Dilated cardiomyopathy","x":1320,"y":1182,"r":30,"s":-0.54},{"n":"Estrogen signaling pathway","x":1262.6,"y":1142,"r":31,"s":-0.11},{"n":"Nicotine addiction","x":1203,"y":1108,"r":26,"s":-0.64},{"n":"Gastric acid secretion","x":1138.6,"y":1080,"r":28,"s":-0.35},{"n":"Olfactory transduction","x":1072,"y":1060,"r":26,"s":-0.52},{"n":"Glucagon signaling pathway","x":1004,"y":1045.6,"r":28,"s":-0.05}],
"labels":[{"t":"Leukocyte transendothelial migration","x":865,"y":992.5},{"t":"Parkinson's disease","x":747,"y":1018.5},{"t":"Th17 cell differentiation","x":1020.6,"y":1018.5},{"t":"Axon guidance","x":680,"y":1039.7},{"t":"Long-term depression","x":624,"y":1071},{"t":"Adrenergic signaling in cardiomyocytes","x":530,"y":1101.5},{"t":"Aldosterone synthesis and secretion","x":536.6,"y":1142},{"t":"Oxytocin signaling pathway","x":480,"y":1182},{"t":"Amoebiasis","x":427,"y":1227},{"t":"Glutamatergic synapse","x":379,"y":1277},{"t":"Nicotinate and nicotinamide","x":334,"y":1318},{"t":"metabolism","x":334,"y":1347},{"t":"Hematopoietic cell lineage","x":300,"y":1392},{"t":"Cell adhesion molecules (CAMs)","x":270,"y":1454},{"t":"Morphine addiction","x":245.5,"y":1519},{"t":"Long-term potentiation","x":228,"y":1586.5},{"t":"Glycosaminoglycan biosynthesis -","x":214.5,"y":1641},{"t":"heparan sulfate / heparin","x":214.5,"y":1669.5},{"t":"Hippo signaling pathway","x":194,"y":1725},{"t":"Insulin secretion","x":217,"y":1793.6},{"t":"Arrhythmogenic right ventricular","x":225,"y":1849},{"t":"cardiomyopathy (ARVC)","x":225,"y":1878},{"t":"cGMP-PKG signaling pathway","x":245.5,"y":1930},{"t":"Phagosome","x":270,"y":1995},{"t":"Tyrosine metabolism","x":300,"y":2058},{"t":"ECM-receptor interaction","x":337,"y":2117},{"t":"Ribosome","x":379,"y":2172},{"t":"Basal cell carcinoma","x":427,"y":2222.5},{"t":"Calcium signaling pathway","x":537,"y":2308},{"t":"Staphylococcus aureus infection","x":524,"y":2342},{"t":"Wnt signaling pathway","x":582.5,"y":2367},{"t":"Glycosaminoglycan biosynthesis -","x":585,"y":2390},{"t":"chondroitin sulfate / dermatan sulfate","x":598,"y":2415},{"t":"Primary immunodeficiency","x":697,"y":2438},{"t":"Salivary secretion","x":865,"y":2456},{"t":"Cholinergic synapse","x":1015,"y":2440.6},{"t":"AGE-RAGE signaling pathway in diabetic complications","x":1232,"y":2418.6},{"t":"Viral myocarditis","x":1125.5,"y":2395},{"t":"Renin-angiotensin system","x":1241.6,"y":2372},{"t":"Protein digestion and absorption","x":1295.5,"y":2342},{"t":"B cell receptor signaling pathway","x":1327,"y":2308},{"t":"Neuroactive ligand-receptor","x":1317.7,"y":2254},{"t":"interaction","x":1317.7,"y":2282.7},{"t":"Huntington's disease","x":1373,"y":2222.5},{"t":"Complement and coagulation","x":1417.7,"y":2158},{"t":"cascades","x":1417.7,"y":2186.5},{"t":"Systemic lupus erythematosus","x":1463.8,"y":2117},{"t":"Maturity onset diabetes of the young","x":1499.7,"y":2058},{"t":"Breast cancer","x":1555,"y":1930},{"t":"Autoimmune thyroid disease","x":1572.8,"y":1863},{"t":"cAMP signaling pathway","x":1583,"y":1794.5},{"t":"Glycosylphosphatidylinositol","x":1580,"y":1641},{"t":"(GPI)-anchor biosynthesis","x":1580,"y":1670},{"t":"Carbohydrate digestion and","x":1569,"y":1572.5},{"t":"absorption","x":1569,"y":1601},{"t":"Intestinal immune network for IgA","x":1552.4,"y":1504.7},{"t":"production","x":1552.4,"y":1533.4},{"t":"GABAergic synapse","x":1531,"y":1454},{"t":"Hypertrophic cardiomyopathy (HCM)","x":1501,"y":1391.4},{"t":"Focal adhesion","x":1421,"y":1277.6},{"t":"Chemical carcinogenesis","x":1373,"y":1227},{"t":"Dilated cardiomyopathy","x":1320,"y":1182},{"t":"Estrogen signaling pathway","x":1263,"y":1142},{"t":"Nicotine addiction","x":1203,"y":1108.5},{"t":"Gastric acid secretion","x":1222,"y":1080},{"t":"Olfactory transduction","x":1155,"y":1060},{"t":"Glucagon signaling pathway","x":1115,"y":1039.7}],
"hilite":[{"t":"Oxidative phosphorylation","x":1658,"y":1332},{"t":"AMPK signaling pathway","x":1753.6,"y":1724},{"t":"PPAR signaling pathway","x":1696.7,"y":2000},{"t":"Regulation of lipolysis in adipocytes","x":254.5,"y":2267.6}],
"key":[{"s":-1,"a":19.4,"b":22},{"s":-0.995,"a":21.8,"b":24.5},{"s":-0.99,"a":24.3,"b":27},{"s":-0.985,"a":26.8,"b":29.5},{"s":-0.98,"a":29.3,"b":32},{"s":-0.975,"a":31.8,"b":34.5},{"s":-0.97,"a":34.3,"b":37},{"s":-0.965,"a":36.8,"b":39.5},{"s":-0.96,"a":39.3,"b":42},{"s":-0.955,"a":41.8,"b":45},{"s":-0.95,"a":44.8,"b":48},{"s":0.95,"a":170,"b":173},{"s":0.96,"a":172.8,"b":176},{"s":0.97,"a":175.8,"b":179},{"s":0.98,"a":178.8,"b":182},{"s":0.985,"a":181.8,"b":185},{"s":0.99,"a":184.8,"b":188},{"s":0.995,"a":187.8,"b":191},{"s":1,"a":190.8,"b":197}],
"keylines":[{"x":19.4,"y1":2518.5,"y2":2601},{"x":48,"y1":2518.5,"y2":2601},{"x":109,"y1":2518.5,"y2":2601},{"x":170,"y1":2518.5,"y2":2601},{"x":197,"y1":2518.5,"y2":2601}],
"keylabels":[{"t":"-1","x":19.4},{"t":"-0.95","x":52.7},{"t":"0","x":109},{"t":"0.95","x":166},{"t":"-1","x":196}]
},
"vconcat":[{"hconcat":[
{"width":1060,"height":928,"resolve":{"scale":{"y":"independent"}},"layer":[
{"data":{"name":"cells"},"mark":{"type":"rect","stroke":"#999999","strokeWidth":1},"encoding":{"x":{"field":"j","type":"quantitative","scale":{"domain":[-0.553,9.97],"nice":false,"zero":false},"axis":null},"x2":{"field":"j2"},"y":{"field":"i","type":"quantitative","scale":{"domain":[-0.3537,8.283],"reverse":true,"nice":false,"zero":false},"axis":null},"y2":{"field":"i2"},"color":{"field":"v","type":"quantitative","legend":null,"scale":{"domain":[0,8.75,17.5,26.25,35,43.75,52.5,61.25,70],"range":["#08306B","#08519C","#2171B5","#4292C6","#6BAED6","#9ECAE1","#C6DBEF","#DEEBF7","#F7FBFF"],"interpolate":"rgb"}}}},
{"data":{"name":"dendro"},"mark":{"type":"rule","stroke":"#555555","strokeWidth":1.2},"encoding":{"x":{"field":"a","type":"quantitative"},"x2":{"field":"a2"},"y":{"field":"b","type":"quantitative","scale":{"domain":[-0.3537,8.283],"reverse":true,"nice":false,"zero":false},"axis":null},"y2":{"field":"b2"}}},
{"data":{"values":[{"t":"chicken3","x":6.07,"y":0.434},{"t":"chicken1","x":6.07,"y":1.434},{"t":"chicken2","x":6.07,"y":2.434},{"t":"casein2","x":6.07,"y":3.434},{"t":"casein1","x":6.07,"y":4.434},{"t":"casein3","x":6.07,"y":5.434}]},"mark":{"type":"text","align":"left","baseline":"middle","fontSize":22,"fill":"#000000"},"encoding":{"x":{"field":"x","type":"quantitative"},"y":{"field":"y","type":"quantitative","scale":{"domain":[-0.3537,8.283],"reverse":true,"nice":false,"zero":false},"axis":null},"text":{"field":"t"}}},
{"data":{"values":[{"t":"chicken3","x":0.574,"y":6.44},{"t":"chicken1","x":1.483,"y":6.44},{"t":"chicken2","x":2.465,"y":6.44},{"t":"casein2","x":3.483,"y":6.44},{"t":"casein1","x":4.563,"y":6.44},{"t":"casein3","x":5.563,"y":6.44}]},"mark":{"type":"text","align":"center","baseline":"middle","angle":90,"fontSize":22,"fill":"#000000"},"encoding":{"x":{"field":"x","type":"quantitative"},"y":{"field":"y","type":"quantitative","scale":{"domain":[-0.3537,8.283],"reverse":true,"nice":false,"zero":false},"axis":null},"text":{"field":"t"}}},
{"data":{"values":[{"t":"A","x":-0.525,"y":-0.48}]},"mark":{"type":"text","align":"left","baseline":"middle","fontSize":30,"fontWeight":"bold","fill":"#000000"},"encoding":{"x":{"field":"x","type":"quantitative"},"y":{"field":"y","type":"quantitative","scale":{"domain":[-0.3537,8.283],"reverse":true,"nice":false,"zero":false},"axis":null},"text":{"field":"t"}}},
{"data":{"values":[{"v":1,"a":0,"b":2.4},{"v":3,"a":2,"b":4.4},{"v":5,"a":4,"b":6.4},{"v":7,"a":6,"b":8.4},{"v":9,"a":8,"b":10.4},{"v":11,"a":10,"b":12.4},{"v":13,"a":12,"b":14.4},{"v":15,"a":14,"b":16.4},{"v":17,"a":16,"b":18.4},{"v":19,"a":18,"b":20.4},{"v":21,"a":20,"b":22.4},{"v":23,"a":22,"b":24.4},{"v":25,"a":24,"b":26.4},{"v":27,"a":26,"b":28.4},{"v":29,"a":28,"b":30.4},{"v":31,"a":30,"b":32.4},{"v":33,"a":32,"b":34.4},{"v":35,"a":34,"b":36.4},{"v":37,"a":36,"b":38.4},{"v":39,"a":38,"b":40.4},{"v":41,"a":40,"b":42.4},{"v":43,"a":42,"b":44.4},{"v":45,"a":44,"b":46.4},{"v":47,"a":46,"b":48.4},{"v":49,"a":48,"b":50.4},{"v":51,"a":50,"b":52.4},{"v":53,"a":52,"b":54.4},{"v":55,"a":54,"b":56.4},{"v":57,"a":56,"b":58.4},{"v":59,"a":58,"b":60.4},{"v":61,"a":60,"b":62.4},{"v":63,"a":62,"b":64.4},{"v":65,"a":64,"b":66.4},{"v":67,"a":66,"b":68.4},{"v":69,"a":68,"b":71.4}]},"mark":{"type":"rect"},"encoding":{"x":{"datum":7.255},"x2":{"datum":7.397},"y":{"field":"a","type":"quantitative","scale":{"domain":[-247.5,62.88],"nice":false,"zero":false},"axis":null},"y2":{"field":"b"},"color":{"field":"v","type":"quantitative","legend":null}}},
{"data":{"values":[{"v":0},{"v":10},{"v":20},{"v":30},{"v":40},{"v":50},{"v":60},{"v":70}]},"mark":{"type":"text","align":"left","baseline":"middle","fontSize":16.5,"fill":"#000000"},"encoding":{"x":{"datum":7.455},"y":{"field":"v","type":"quantitative","scale":{"domain":[-247.5,62.88],"nice":false,"zero":false},"axis":null},"text":{"field":"v","type":"quantitative"}}}
]},
{"width":683.4,"height":699.6,"view":{"stroke":"#333333","strokeWidth":1.5},"layer":[
{"data":{"values":[{"m":-0.88,"hi":0.005,"lo":-0.005},{"m":-0.5,"hi":0.012,"lo":-0.012},{"m":0,"hi":0.025,"lo":-0.03},{"m":0.3,"hi":0.06,"lo":-0.06},{"m":0.5,"hi":0.12,"lo":-0.12},{"m":0.7,"hi":0.19,"lo":-0.2},{"m":1,"hi":0.3,"lo":-0.3},{"m":1.3,"hi":0.4,"lo":-0.42},{"m":1.6,"hi":0.45,"lo":-0.5},{"m":2,"hi":0.4,"lo":-0.46},{"m":2.4,"hi":0.33,"lo":-0.38},{"m":2.8,"hi":0.31,"lo":-0.34},{"m":3.2,"hi":0.27,"lo":-0.27},{"m":3.5,"hi":0.2,"lo":-0.2},{"m":3.8,"hi":0.1,"lo":-0.12},{"m":4.1,"hi":0.03,"lo":-0.03}]},"mark":{"type":"area","fill":"#4d4d4d"},"encoding":{"x":{"field":"m","type":"quantitative","scale":{"domain":[-1.17,6.395],"nice":false,"zero":false},"axis":{"values":[-1,1,3,5],"labelExpr":"datum.value==-1?'1e−01':datum.value==1?'1e+01':datum.value==3?'1e+03':'1e+05'","title":"mean of normalized counts","titleX":361,"titleFontSize":23.7,"titleFontWeight":"normal","titleColor":"#222222","titlePadding":24,"labelFontSize":22,"labelColor":"#222222","labelPadding":6,"tickSize":9,"tickColor":"#333333","tickWidth":1.2,"grid":false,"domain":false,"labelFlush":false}},"y":{"field":"hi","type":"quantitative","scale":{"domain":[-2.164,2.154],"nice":false,"zero":false},"axis":{"values":[-2,-1,0,1,2],"labelAngle":-90,"labelAlign":"center","labelBaseline":"bottom","title":"log fold change","titleFontSize":25,"titleFontWeight":"normal","titleColor":"#222222","titlePadding":27,"labelFontSize":20,"labelColor":"#222222","labelPadding":9,"tickSize":9,"tickColor":"#333333","tickWidth":1.2,"grid":false,"domain":false,"format":"d"}},"y2":{"field":"lo"}}},
{"data":{"name":"ns"},"mark":{"type":"point","shape":"circle","filled":true,"size":14,"opacity":1,"color":"#4d4d4d"},"encoding":{"x":{"field":"m","type":"quantitative"},"y":{"field":"l","type":"quantitative"}}},
{"data":{"values":[{"m":1.9,"hi":-0.5,"lo":-0.62},{"m":2.1,"hi":-0.46,"lo":-0.78},{"m":2.35,"hi":-0.42,"lo":-0.88},{"m":2.6,"hi":-0.4,"lo":-0.84},{"m":2.85,"hi":-0.4,"lo":-0.72},{"m":3.05,"hi":-0.42,"lo":-0.56}]},"mark":{"type":"area","fill":"#cd0a14","opacity":0.4},"encoding":{"x":{"field":"m","type":"quantitative"},"y":{"field":"hi","type":"quantitative"},"y2":{"field":"lo"}}},
{"data":{"values":[{"m":2.4,"hi":0.46,"lo":0.38},{"m":2.7,"hi":0.53,"lo":0.33},{"m":3.0,"hi":0.57,"lo":0.32},{"m":3.4,"hi":0.58,"lo":0.32},{"m":3.7,"hi":0.5,"lo":0.36},{"m":3.95,"hi":0.44,"lo":0.39}]},"mark":{"type":"area","fill":"#cd0a14","opacity":0.4},"encoding":{"x":{"field":"m","type":"quantitative"},"y":{"field":"hi","type":"quantitative"},"y2":{"field":"lo"}}},
{"data":{"name":"sig"},"mark":{"type":"point","shape":"circle","filled":true,"size":14,"opacity":1,"color":"#cd0a14"},"encoding":{"x":{"field":"m","type":"quantitative"},"y":{"field":"l","type":"quantitative"}}},
{"data":{"name":"tup"},"mark":{"type":"point","shape":"triangle-up","filled":false,"size":18,"strokeWidth":0.9,"color":"#e0202a"},"encoding":{"x":{"field":"m","type":"quantitative"},"y":{"field":"l","type":"quantitative"}}},
{"data":{"name":"tdn"},"mark":{"type":"point","shape":"triangle-down","filled":false,"size":18,"strokeWidth":0.9,"color":"#e0202a"},"encoding":{"x":{"field":"m","type":"quantitative"},"y":{"field":"l","type":"quantitative"}}},
{"mark":{"type":"rule","stroke":"#ff2020","strokeOpacity":0.6,"strokeWidth":2.6},"encoding":{"y":{"datum":0}}},
{"data":{"values":[{"t":"B","m":-2.118,"l":2.222}]},"mark":{"type":"text","align":"left","baseline":"middle","fontSize":30,"fontWeight":"bold","fill":"#000000"},"encoding":{"x":{"field":"m","type":"quantitative"},"y":{"field":"l","type":"quantitative"},"text":{"field":"t"}}},
{"data":{"values":[{"m":-1,"l":2.35}]},"mark":{"type":"point","size":1,"opacity":0},"encoding":{"x":{"field":"m","type":"quantitative"},"y":{"field":"l","type":"quantitative"}}}
]}
]},
{"width":1889,"height":1662,"resolve":{"scale":{"color":"independent"}},"layer":[
{"data":{"name":"edges"},"mark":{"type":"rule","stroke":"#cccccc","strokeWidth":6},"encoding":{"x":{"field":"x1","type":"quantitative","scale":{"domain":[0,1889],"nice":false,"zero":false},"axis":null},"x2":{"field":"x2"},"y":{"field":"y1","type":"quantitative","scale":{"domain":[960,2622],"reverse":true,"nice":false,"zero":false},"axis":null},"y2":{"field":"y2"}}},
{"data":{"name":"nodes"},"mark":{"type":"point","shape":"circle","filled":true,"fillOpacity":0.85,"opacity":1,"stroke":"#0d2030","strokeWidth":2.4},"encoding":{"x":{"field":"x","type":"quantitative"},"y":{"field":"y","type":"quantitative"},"size":{"field":"r","type":"quantitative","legend":null,"scale":{"type":"pow","exponent":2,"domain":[0,50],"range":[0,10000]}},"color":{"field":"s","type":"quantitative","legend":null,"scale":{"domain":[-1,0,1],"range":["#3b8bc4","#ffffff","#d96a57"],"interpolate":"rgb"}}}},
{"data":{"name":"labels"},"mark":{"type":"text","align":"center","baseline":"middle","fontSize":20.9,"fill":"#000000"},"encoding":{"x":{"field":"x","type":"quantitative"},"y":{"field":"y","type":"quantitative"},"text":{"field":"t"}}},
{"data":{"name":"hilite"},"mark":{"type":"text","align":"center","baseline":"middle","fontSize":22.2,"fontWeight":"bold","fill":"#ff0000"},"encoding":{"x":{"field":"x","type":"quantitative"},"y":{"field":"y","type":"quantitative"},"text":{"field":"t"}}},
{"data":{"values":[{"t":"C","x":6,"y":996}]},"mark":{"type":"text","align":"left","baseline":"middle","fontSize":30,"fontWeight":"bold","fill":"#000000"},"encoding":{"x":{"field":"x","type":"quantitative"},"y":{"field":"y","type":"quantitative"},"text":{"field":"t"}}},
{"data":{"name":"key"},"mark":{"type":"rect"},"encoding":{"x":{"field":"a","type":"quantitative"},"x2":{"field":"b"},"y":{"datum":2518.5},"y2":{"datum":2595},"color":{"field":"s","type":"quantitative","legend":null,"scale":{"domain":[-1,-0.95,0.95,1],"range":["#3a8bc3","#ffffff","#ffffff","#d96a57"],"interpolate":"rgb"}}}},
{"data":{"values":[{"a":19.4,"b":197,"p":2518.5,"q":2595}]},"mark":{"type":"rect","fillOpacity":0,"stroke":"#000000","strokeWidth":2},"encoding":{"x":{"field":"a","type":"quantitative"},"x2":{"field":"b"},"y":{"field":"p","type":"quantitative"},"y2":{"field":"q"}}},
{"data":{"name":"keylines"},"mark":{"type":"rule","stroke":"#000000","strokeWidth":1.8},"encoding":{"x":{"field":"x","type":"quantitative"},"y":{"field":"y1","type":"quantitative"},"y2":{"field":"y2"}}},
{"data":{"name":"keylabels"},"mark":{"type":"text","align":"center","baseline":"middle","fontSize":14.5,"fill":"#222222"},"encoding":{"x":{"field":"x","type":"quantitative"},"y":{"datum":2612},"text":{"field":"t"}}}
]}
]}
